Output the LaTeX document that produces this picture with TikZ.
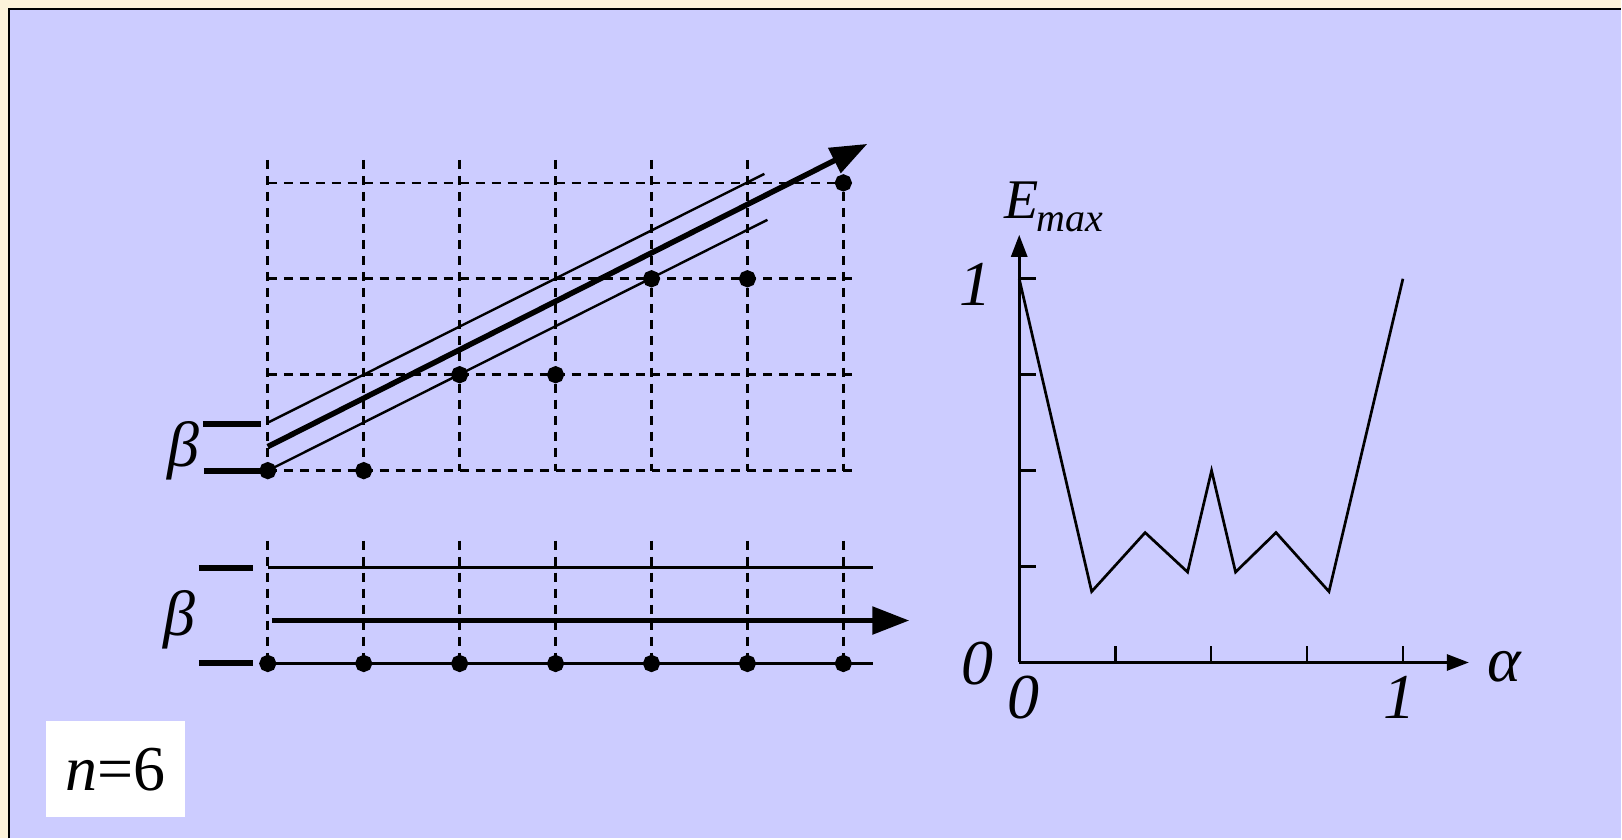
\documentclass[tikz,border=0pt]{standalone}
\usepackage{fontspec}
\setmainfont{Liberation Serif}
\usetikzlibrary{arrows.meta,shapes.geometric}
\definecolor{bgpurple}{RGB}{204,204,255}
\definecolor{cream}{RGB}{253,243,218}
\begin{document}
\begin{tikzpicture}[x=1pt,y=-1pt,
 gridline/.style={line width=2.6pt, dash pattern=on 9pt off 7pt},
 thinline/.style={line width=2.4pt},
 thickarrow/.style={line width=5.5pt,-{Triangle[length=37pt,width=27pt]}},
 bar/.style={line width=6pt},
 dot/.style={regular polygon, regular polygon sides=8, shape border rotate=22.5, fill=black, inner sep=0pt, minimum size=17.5pt},
 lbl/.style={inner sep=0pt, font=\fontsize{64}{64}\selectfont\itshape},
 axis/.style={line width=2.8pt,-{Triangle[length=22pt,width=16pt]}},
 tick/.style={line width=2.8pt},
 curve/.style={line width=2.7pt, line join=miter},
]
% background and frame
\fill[cream] (0,0) rectangle (1622,839);
\fill[bgpurple] (9,9) rectangle (1622,839);
\draw[line width=2.5pt] (9,839) -- (9,9) -- (1622,9);
\useasboundingbox (0,0) rectangle (1622,839);

% top grid
\foreach \i in {0,...,6} {
  \draw[gridline] ({268+96*\i},160) -- ({268+96*\i},471);
  \draw[gridline] ({268+96*\i},541) -- ({268+96*\i},664);
}
\foreach \j in {0,...,3}
  \draw[gridline] (268,{183+96*\j}) -- (853,{183+96*\j});

% diagonal lines
\coordinate (uS) at (268,423); \coordinate (uE) at (765,174);
\coordinate (lS) at (268,471); \coordinate (lE) at (768,220);
\coordinate (mS) at (268,447); \coordinate (mE) at (868,144);
\draw[thinline] (uS) -- (uE);
\draw[thinline] (lS) -- (lE);
\draw[thickarrow] (mS) -- (mE);

% bottom lines
\coordinate (hS) at (268,568); \coordinate (hE) at (874,568);
\coordinate (gS) at (268,664); \coordinate (gE) at (874,664);
\coordinate (aS) at (272,621); \coordinate (aE) at (910,621);
\draw[thinline] (hS) -- (hE);
\draw[thinline] (gS) -- (gE);
\draw[thickarrow] (aS) -- (aE);

% beta bars
\draw[bar] (203,424) -- (261,424);
\draw[bar] (204,471) -- (261,471);
\draw[bar] (199,568) -- (253,568);
\draw[bar] (199,664) -- (253,664);

% dots
\foreach \x/\y [count=\k] in {268/471,364/471,460/375,556/375,652/279,748/279,844/183}
  \node[dot] (t\k) at (\x,\y) {};
\foreach \i in {0,...,6}
  \node[dot] (d\i) at ({268+96*\i},664) {};

% beta labels
\node[lbl] (beta1) at (183.5,451) {β};
\node[lbl] (beta2) at (180,620) {β};

% right graph
\coordinate (O) at (1020,663);
\coordinate (xE) at (1470,663);
\coordinate (yE) at (1020,235);
\draw[axis] (O) -- (xE);
\draw[axis] (O) -- (yE);
\foreach \x in {1116,1212,1308,1404}
  \draw[tick] (\x,663) -- (\x,646);
\foreach \y in {279,375,471,567}
  \draw[tick] (1020,\y) -- (1037,\y);
\draw[curve] (1020,279) -- (1092.5,592) -- (1146,533) -- (1188.5,572.5) -- (1212.5,471)
  -- (1236.5,572.5) -- (1277,533) -- (1330,592) -- (1404,279);

\node[lbl] (y0) at (978,664) {0};
\node[lbl] (x0) at (1024,698) {0};
\node[lbl] (x1) at (1401,698) {1};
\node[lbl] (y1) at (976.5,284.5) {1};
\node[lbl] (alpha) at (1505,667.5) {α};
\node[anchor=base west, inner sep=0pt] (emax) at (1005,219)
  {\fontsize{56}{56}\selectfont\itshape E\kern-2pt\raisebox{-13pt}{\fontsize{40}{40}\selectfont max}};

% n=6 box
\node[fill=white, minimum width=139pt, minimum height=96pt, inner sep=0pt,
  font=\fontsize{64}{64}\selectfont] (nbox) at (115.5,770) {{\itshape n}=6};
\end{tikzpicture}
\end{document}
